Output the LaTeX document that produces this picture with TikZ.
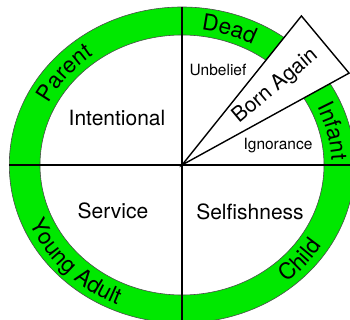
\documentclass[tikz,border=0pt]{standalone}
\usepackage{fontspec}
\setmainfont{TeX Gyre Heros}
\usepackage{tikz}
\usetikzlibrary{decorations.text}
\usepackage{xcolor}
\definecolor{ringgreen}{RGB}{0,232,0}
\newcommand\ringfont{\fontsize{22.5}{26}\selectfont}

\begin{document}
\begin{tikzpicture}[x=1pt,y=1pt,
  quarter/.style={font=\fontsize{21}{25}\selectfont},
  small/.style={font=\fontsize{15.5}{18}\selectfont},
  divider/.style={draw=black,line width=1.3pt},
  ringline/.style={draw=black!70,line width=0.6pt},
  wedge/.style={draw=black,fill=white,line width=1.4pt,line join=miter},
  ringtext/.style={decorate,decoration={text along path,text align=center,text={|\ringfont|#1}}}]

 % frame of the picture, the ring runs off the right and bottom edge
 \useasboundingbox (-182,-155) rectangle (168,165);
 \clip (-182,-155) rectangle (168,165);

 % green ring between two ellipses
 \fill[ringgreen,even odd rule] (0,0) ellipse [x radius=172.7,y radius=158]
   (0,0) ellipse [x radius=142,y radius=130];
 \draw[ringline] (0,0) ellipse [x radius=172.7,y radius=158];
 \draw[ringline] (0,0) ellipse [x radius=142,y radius=130];

 % end points of the cross and of the wedge
 \coordinate (Centre) at (0,0);
 \coordinate (West) at (-172.7,0);
 \coordinate (East) at (172.7,0);
 \coordinate (North) at (0,158);
 \coordinate (South) at (0,-158);
 \coordinate (TipUp) at (51.3:191);
 \coordinate (TipDown) at (28.8:190.7);

 \draw[divider] (West) -- (East);
 \draw[divider] (North) -- (South);

 % Born Again wedge on top of the ring
 \draw[wedge] (Centre) -- (TipUp) -- (TipDown) -- cycle;
 \node[quarter,rotate=40] (BornAgain) at (40:122) {Born Again};

 % quarters
 \node[quarter] (Intentional) at (-65,47) {Intentional};
 \node[small] (Unbelief) at (36,95) {Unbelief};
 \node[small] (Ignorance) at (96,19) {Ignorance};
 \node[quarter] (Service) at (-69,-46) {Service};
 \node[quarter] (Selfishness) at (68,-47) {Selfishness};

 % stages written along the ring
 \path[ringtext=Dead] (97:149.5 and 136) arc[start angle=97,end angle=47,x radius=149.5,y radius=136];
 \path[ringtext=Parent] (165:149.5 and 136) arc[start angle=165,end angle=115,x radius=149.5,y radius=136];
 \path[ringtext=Infant] (38:149.5 and 136) arc[start angle=38,end angle=-11,x radius=149.5,y radius=136];
 \path[ringtext=Child] (-66:165 and 152) arc[start angle=-66,end angle=-16,x radius=165,y radius=152];
 \path[ringtext=Young Adult] (180:165 and 152) arc[start angle=180,end angle=268,x radius=165,y radius=152];

\end{tikzpicture}
\end{document}
